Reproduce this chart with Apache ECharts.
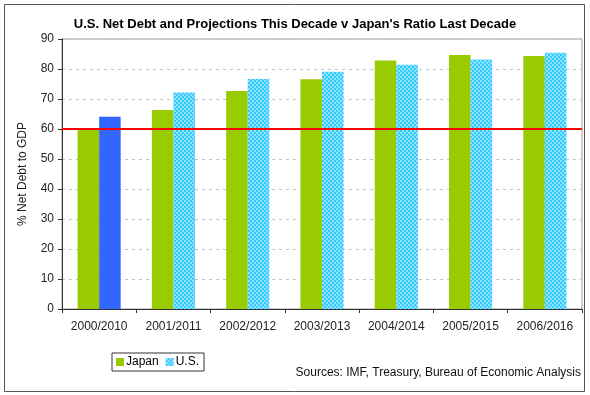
<!DOCTYPE html>
<html>
<head>
<meta charset="utf-8">
<script src="https://cdn.jsdelivr.net/npm/echarts@6/dist/echarts.min.js"></script>
<style>
html,body{margin:0;padding:0;background:#fff;}
#chart{width:590px;height:395px;}
</style>
</head>
<body>
<div id="chart"></div>
<script>
const categories = ['2000/2010', '2001/2011', '2002/2012', '2003/2013', '2004/2014', '2005/2015', '2006/2016'];
const japan = [60.3, 66.3, 72.7, 76.6, 82.8, 84.7, 84.3];
const us = [64.1, 72.2, 76.7, 79.1, 81.4, 83.2, 85.4];
const japanRatio2000 = 60.2;
const yTicks = [0, 10, 20, 30, 40, 50, 60, 70, 80, 90];

const cv = document.createElement('canvas');
cv.width = 4; cv.height = 4;
const cx = cv.getContext('2d');
cx.fillStyle = '#33CCFF'; cx.fillRect(0, 0, 4, 4);
cx.fillStyle = '#8FE2FF';
cx.fillRect(0, 0, 2, 2); cx.fillRect(2, 2, 2, 2);
const usPattern = { image: cv, repeat: 'repeat' };

const font = 'Liberation Sans, Arial, sans-serif';
const chart = echarts.init(document.getElementById('chart'), null, { renderer: 'canvas' });

chart.setOption({
  animation: false,
  textStyle: { fontFamily: font },
  title: {
    text: "U.S. Net Debt and Projections This Decade v Japan's Ratio Last Decade",
    left: 'center', top: 13,
    textStyle: { fontSize: 13, fontWeight: 'bold', color: '#000', fontFamily: font }
  },
  grid: { left: 62, right: 8, top: 39, bottom: 86, show: true, borderColor: '#999', borderWidth: 1, backgroundColor: 'transparent' },
  legend: {
    left: 112, top: 353,
    data: [
      { name: 'Japan', icon: 'rect' },
      { name: 'U.S.', icon: 'rect', itemStyle: { color: usPattern } }
    ],
    itemWidth: 8, itemHeight: 8, itemGap: 7,
    padding: [3, 5, 3, 4],
    borderColor: '#333', borderWidth: 1,
    textStyle: { fontSize: 12, color: '#000', fontFamily: font, padding: [0, 0, 0, -3] }
  },
  xAxis: {
    type: 'category', data: categories,
    axisLine: { lineStyle: { color: '#333', width: 1 } },
    axisTick: { show: true, length: 4, lineStyle: { color: '#333' } },
    axisLabel: { fontSize: 12, color: '#222', margin: 12, fontFamily: font }
  },
  yAxis: {
    type: 'value', min: 0, max: 90, interval: 10,
    name: '% Net Debt to GDP', nameLocation: 'middle', nameRotate: 90, nameGap: 33,
    nameTextStyle: { fontSize: 12, color: '#222', fontFamily: font },
    axisLine: { show: true, lineStyle: { color: '#333' } },
    axisTick: { show: true, length: 4, lineStyle: { color: '#333' } },
    axisLabel: { fontSize: 12, color: '#222', margin: 8, fontFamily: font,
      formatter: v => yTicks.includes(v) ? String(v) : '' },
    splitLine: { show: true, lineStyle: { color: '#c4c4c4', type: [3, 4] } }
  },
  series: [
    {
      name: 'Japan', type: 'bar', data: japan,
      barGap: '0%', barCategoryGap: '42%',
      itemStyle: { color: '#99CC00' },
      markLine: {
        silent: true, symbol: 'none', label: { show: false },
        lineStyle: { color: '#FF0000', width: 2, type: 'solid' },
        data: [{ yAxis: japanRatio2000 }],
        z: 10
      }
    },
    {
      name: 'U.S.', type: 'bar',
      data: us.map((v, i) => i === 0 ? { value: v, itemStyle: { color: '#3366FF' } } : v),
      itemStyle: { color: usPattern }
    }
  ],
  graphic: [
    { type: 'rect', shape: { x: 4.5, y: 4.5, width: 580, height: 387 }, style: { fill: 'none', stroke: '#555', lineWidth: 1 }, silent: true },
    { type: 'text', right: 9, top: 367, style: { text: 'Sources: IMF, Treasury, Bureau of Economic Analysis', font: '12px ' + font, fill: '#111' } }
  ]
});
</script>
</body>
</html>
